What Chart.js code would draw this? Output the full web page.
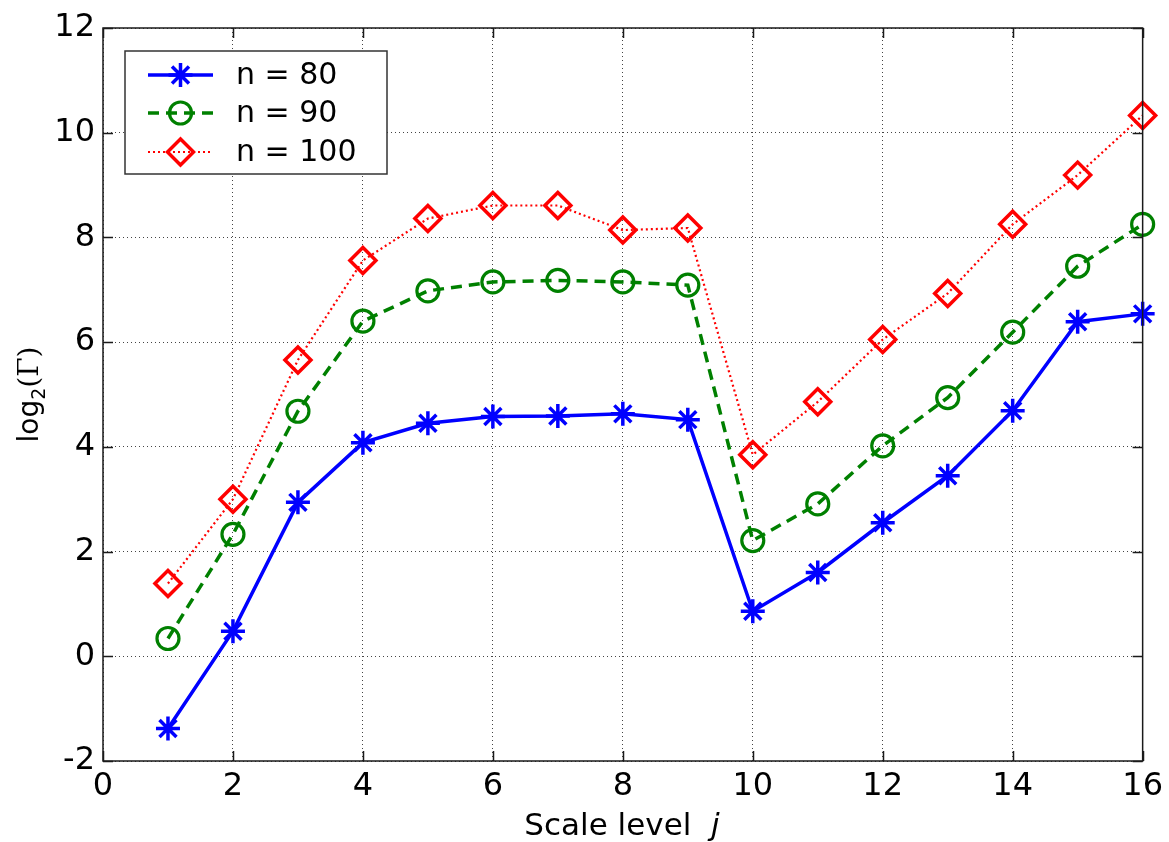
<!DOCTYPE html>
<html><head><meta charset="utf-8">
<script src="https://cdn.jsdelivr.net/npm/chart.js@4/dist/chart.umd.min.js"></script>
<style>html,body{margin:0;padding:0;background:#fff;overflow:hidden;} #wrap{width:1169px;height:842px;position:relative;}</style>
</head><body><div id="wrap"><canvas id="c" width="1169" height="842"></canvas></div>
<script>
// ---- data ----
const scaleLevels = [1, 2, 3, 4, 5, 6, 7, 8, 9, 10, 11, 12, 13, 14, 15, 16];
const n80  = [-1.38, 0.48, 2.94, 4.08, 4.45, 4.58, 4.59, 4.63, 4.52, 0.86, 1.60, 2.55, 3.45, 4.69, 6.39, 6.54];
const n90  = [0.34, 2.33, 4.68, 6.40, 6.98, 7.15, 7.18, 7.15, 7.09, 2.21, 2.91, 4.02, 4.94, 6.19, 7.45, 8.25];
const n100 = [1.39, 3.00, 5.66, 7.56, 8.36, 8.61, 8.61, 8.14, 8.18, 3.85, 4.86, 6.05, 6.93, 8.25, 9.19, 10.33];
const seriesLabels = ['n = 80', 'n = 90', 'n = 100'];
const xTickValues = [0, 2, 4, 6, 8, 10, 12, 14, 16];
const yTickValues = [-2, 0, 2, 4, 6, 8, 10, 12];
const xTitleText = 'Scale level';
const xTitleVar = 'j';
const yTitleMain = 'log';
const yTitleSub = '2';
const yTitleArg = '(\u0393)';

const SANS = '"DejaVu Sans", "Liberation Sans", Arial, sans-serif';
const SERIF = '"DejaVu Serif", "Liberation Serif", serif';

function pts(ys) { return scaleLevels.map((x, i) => ({ x: x, y: ys[i] })); }

function drawMarker(ctx, style, x, y, r, color, lw) {
  ctx.save();
  ctx.strokeStyle = color; ctx.lineWidth = lw; ctx.setLineDash([]);
  ctx.beginPath();
  if (style === 'star') {
    for (let k = 0; k < 4; k++) {
      const a = k * Math.PI / 4;
      ctx.moveTo(x - r * Math.cos(a), y - r * Math.sin(a));
      ctx.lineTo(x + r * Math.cos(a), y + r * Math.sin(a));
    }
  } else if (style === 'circle') {
    ctx.arc(x, y, r, 0, Math.PI * 2);
  } else if (style === 'rectRot') {
    ctx.moveTo(x, y - r); ctx.lineTo(x + r, y); ctx.lineTo(x, y + r); ctx.lineTo(x - r, y); ctx.closePath();
  }
  ctx.stroke();
  ctx.restore();
}

const decor = {
  id: 'decor',
  afterDraw(chart) {
    const ctx = chart.ctx;
    const a = chart.chartArea;
    const xs = chart.scales.x, ys = chart.scales.y;
    ctx.save();
    // frame
    ctx.strokeStyle = '#1a1a1a'; ctx.lineWidth = 1.5; ctx.setLineDash([]);
    ctx.strokeRect(a.left, a.top, a.right - a.left, a.bottom - a.top);
    // inward ticks
    ctx.beginPath();
    xTickValues.forEach(v => {
      const p = Math.round(xs.getPixelForValue(v)) + 0.5;
      ctx.moveTo(p, a.bottom); ctx.lineTo(p, a.bottom - 10);
      ctx.moveTo(p, a.top); ctx.lineTo(p, a.top + 10);
    });
    yTickValues.forEach(v => {
      const p = Math.round(ys.getPixelForValue(v)) + 0.5;
      ctx.moveTo(a.left, p); ctx.lineTo(a.left + 10, p);
      ctx.moveTo(a.right, p); ctx.lineTo(a.right - 10, p);
    });
    ctx.stroke();

    // legend
    const lx = 125, ly = 51, lw = 262, lh = 123;
    ctx.fillStyle = '#fff';
    ctx.fillRect(lx, ly, lw, lh);
    ctx.strokeStyle = '#333'; ctx.lineWidth = 1.5;
    ctx.strokeRect(lx, ly, lw, lh);
    const rowsY = [75, 113, 152];
    chart.data.datasets.forEach((ds, i) => {
      const yy = rowsY[i];
      ctx.save();
      ctx.strokeStyle = ds.borderColor; ctx.lineWidth = ds.borderWidth;
      ctx.setLineDash(ds.borderDash || []);
      ctx.beginPath(); ctx.moveTo(148, yy); ctx.lineTo(213, yy); ctx.stroke();
      ctx.restore();
      drawMarker(ctx, ds.pointStyle, 180.5, yy, ds.pointRadius, ds.borderColor, ds.pointBorderWidth);
      ctx.fillStyle = '#000';
      ctx.font = '30px ' + SANS;
      ctx.textAlign = 'left'; ctx.textBaseline = 'middle';
      ctx.fillText(ds.label, 236, yy + 1);
    });

    // x title
    ctx.fillStyle = '#000';
    ctx.textBaseline = 'alphabetic'; ctx.textAlign = 'left';
    ctx.font = '31px ' + SANS;
    const w1 = ctx.measureText(xTitleText + '  ').width;
    ctx.font = 'italic 31px ' + SANS;
    const w2 = ctx.measureText(xTitleVar).width;
    const cx = 622;
    let sx = cx - (w1 + w2) / 2;
    ctx.font = '31px ' + SANS;
    ctx.fillText(xTitleText, sx, 835);
    ctx.font = 'italic 31px ' + SANS;
    ctx.fillText(xTitleVar, sx + w1, 835);

    // y title (rotated)
    ctx.save();
    ctx.translate(38, (a.top + a.bottom) / 2);
    ctx.rotate(-Math.PI / 2);
    ctx.font = '28px ' + SANS;
    const t1 = ctx.measureText(yTitleMain).width;
    ctx.font = '19px ' + SANS;
    const t2 = ctx.measureText(yTitleSub).width;
    ctx.font = '28px ' + SERIF;
    const t3 = ctx.measureText(yTitleArg).width;
    let ox = -(t1 + t2 + t3) / 2;
    ctx.textAlign = 'left'; ctx.textBaseline = 'alphabetic';
    ctx.font = '28px ' + SANS; ctx.fillText(yTitleMain, ox, 0);
    ctx.font = '19px ' + SANS; ctx.fillText(yTitleSub, ox + t1, 7);
    ctx.font = '28px ' + SERIF; ctx.fillText(yTitleArg, ox + t1 + t2, 0);
    ctx.restore();

    ctx.restore();
  }
};

const tickFont = { family: SANS, size: 32 };

new Chart(document.getElementById('c'), {
  type: 'line',
  data: {
    datasets: [
      { label: seriesLabels[0], data: pts(n80), borderColor: '#0000ff', backgroundColor: 'rgba(0,0,0,0)',
        borderWidth: 3.5, pointStyle: 'star', pointRadius: 12, pointBorderWidth: 3.5, pointHoverRadius: 12,
        pointBackgroundColor: 'rgba(0,0,0,0)', pointBorderColor: '#0000ff', clip: false, tension: 0, order: 3 },
      { label: seriesLabels[1], data: pts(n90), borderColor: '#008000', backgroundColor: 'rgba(0,0,0,0)',
        borderWidth: 3.5, borderDash: [11, 7], pointStyle: 'circle', pointRadius: 11, pointBorderWidth: 3.2, pointHoverRadius: 11,
        pointBackgroundColor: 'rgba(0,0,0,0)', pointBorderColor: '#008000', clip: false, tension: 0, order: 2 },
      { label: seriesLabels[2], data: pts(n100), borderColor: '#ff0000', backgroundColor: 'rgba(0,0,0,0)',
        borderWidth: 2.2, borderDash: [2, 3], pointStyle: 'rectRot', pointRadius: 13, pointBorderWidth: 3.5, pointHoverRadius: 13,
        pointBackgroundColor: 'rgba(0,0,0,0)', pointBorderColor: '#ff0000', clip: false, tension: 0, order: 1 }
    ]
  },
  options: {
    responsive: false,
    animation: false,
    devicePixelRatio: 1,
    layout: { padding: { top: 28, right: 24, left: 0, bottom: 0 } },
    plugins: { legend: { display: false }, tooltip: { enabled: false } },
    events: [],
    scales: {
      x: {
        type: 'linear', min: xTickValues[0], max: xTickValues[xTickValues.length - 1],
        ticks: { stepSize: 2, font: tickFont, color: '#000', padding: 6, maxRotation: 0, autoSkip: false },
        grid: { color: '#444', lineWidth: 1, drawTicks: false },
        border: { display: false, dash: [1, 3] },
        afterFit: s => { s.height = 81; }
      },
      y: {
        type: 'linear', min: yTickValues[0], max: yTickValues[yTickValues.length - 1],
        ticks: { stepSize: 2, font: tickFont, color: '#000', padding: 8, autoSkip: false },
        grid: { color: '#444', lineWidth: 1, drawTicks: false },
        border: { display: false, dash: [1, 3] },
        afterFit: s => { s.width = 103; }
      }
    }
  },
  plugins: [decor]
});
</script>
</body></html>
